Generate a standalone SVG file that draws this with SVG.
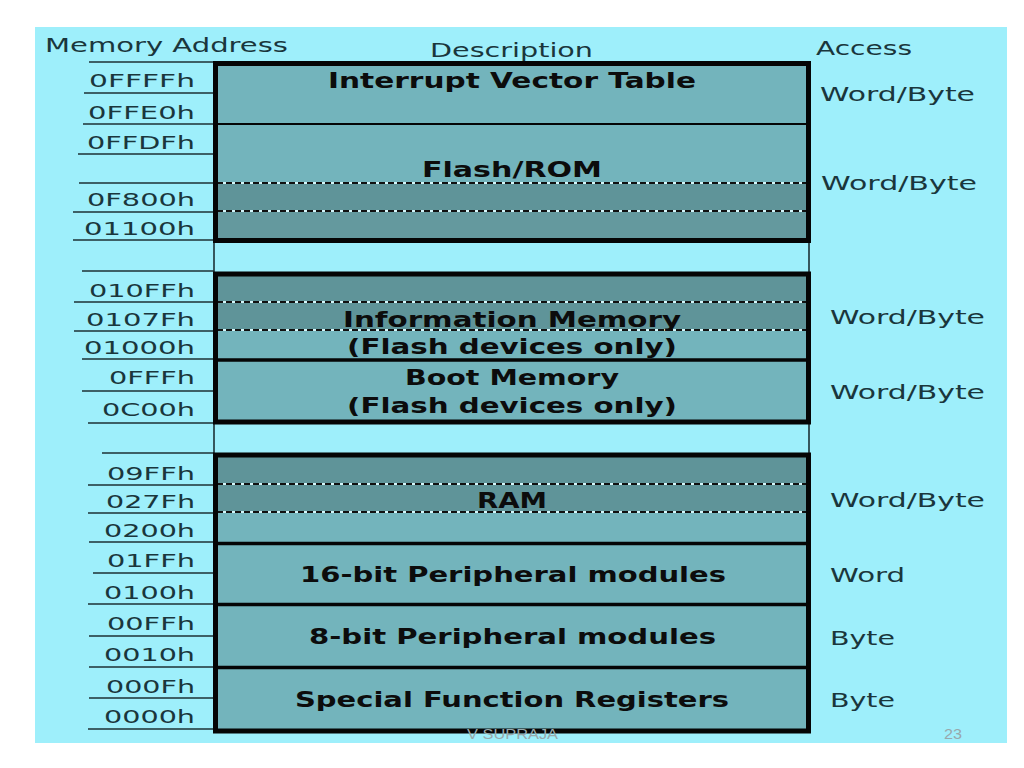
<svg xmlns="http://www.w3.org/2000/svg" width="1024" height="768" viewBox="0 0 1024 768">
<style>
.hdr{font-family:"DejaVu Sans",Verdana,sans-serif;font-size:19px;fill:#1a363c}
.addr{font-family:"DejaVu Sans",Verdana,sans-serif;font-size:18.5px;fill:#1a363c}
.acc{font-family:"DejaVu Sans",Verdana,sans-serif;font-size:19.5px;fill:#1a363c}
.desc{font-family:"DejaVu Sans",Verdana,sans-serif;font-weight:bold;font-size:20.5px;fill:#0c0c0c}
.light{fill:#73b4bc}
.dark{fill:#5f9499}
.dark2{fill:#64999e}
.frame{fill:none;stroke:#050505;stroke-width:5}
.sep{stroke:#050505;stroke-width:3.5}
.sep2{stroke:#050505;stroke-width:2}
.dashbg{stroke:#d4f6fa;stroke-width:2}
.dash{stroke:#111111;stroke-width:2;stroke-dasharray:6 3}
.tick{stroke:#1c3035;stroke-width:1.6}
.foot{font-family:"Liberation Sans",Arial,sans-serif;fill:#98a8ab}
</style>
<rect x="0" y="0" width="1024" height="768" fill="#ffffff"/>
<rect x="35" y="27" width="972" height="716" fill="#9eeffb"/>

<g id="headers">
<text class="hdr" x="45" y="52" textLength="243" lengthAdjust="spacingAndGlyphs">Memory Address</text>
<text class="hdr" x="430" y="57" textLength="163" lengthAdjust="spacingAndGlyphs">Description</text>
<text class="hdr" x="816" y="55" textLength="96" lengthAdjust="spacingAndGlyphs">Access</text>
</g>

<g id="connectors">
<line class="tick" x1="89" y1="62" x2="214" y2="62"/>
<line class="tick" x1="84" y1="93" x2="214" y2="93"/>
<line class="tick" x1="83" y1="124" x2="214" y2="124"/>
<line class="tick" x1="78" y1="154" x2="214" y2="154"/>
<line class="tick" x1="79" y1="183" x2="214" y2="183"/>
<line class="tick" x1="73" y1="212" x2="214" y2="212"/>
<line class="tick" x1="73" y1="240" x2="214" y2="240"/>
<line class="tick" x1="82" y1="271" x2="214" y2="271"/>
<line class="tick" x1="74" y1="302" x2="214" y2="302"/>
<line class="tick" x1="74" y1="331" x2="214" y2="331"/>
<line class="tick" x1="82" y1="359" x2="214" y2="359"/>
<line class="tick" x1="82" y1="391" x2="214" y2="391"/>
<line class="tick" x1="88" y1="423" x2="214" y2="423"/>
<line class="tick" x1="102" y1="453" x2="214" y2="453"/>
<line class="tick" x1="88" y1="485" x2="214" y2="485"/>
<line class="tick" x1="88" y1="513" x2="214" y2="513"/>
<line class="tick" x1="89" y1="542" x2="214" y2="542"/>
<line class="tick" x1="93" y1="573" x2="214" y2="573"/>
<line class="tick" x1="88" y1="604" x2="214" y2="604"/>
<line class="tick" x1="89" y1="636" x2="214" y2="636"/>
<line class="tick" x1="89" y1="667" x2="214" y2="667"/>
<line class="tick" x1="89" y1="698" x2="214" y2="698"/>
<line class="tick" x1="88" y1="729" x2="214" y2="729"/>
<line class="tick" x1="214" y1="240" x2="214" y2="275"/>
<line class="tick" x1="214" y1="421" x2="214" y2="456"/>
<line class="tick" x1="809" y1="240" x2="809" y2="275"/>
<line class="tick" x1="809" y1="421" x2="809" y2="456"/>
</g>

<g id="addresses">
<text class="addr" x="89" y="87" textLength="106" lengthAdjust="spacingAndGlyphs">0FFFFh</text>
<text class="addr" x="88" y="119" textLength="107" lengthAdjust="spacingAndGlyphs">0FFE0h</text>
<text class="addr" x="87" y="149" textLength="108" lengthAdjust="spacingAndGlyphs">0FFDFh</text>
<text class="addr" x="87" y="206" textLength="108" lengthAdjust="spacingAndGlyphs">0F800h</text>
<text class="addr" x="84" y="235" textLength="111" lengthAdjust="spacingAndGlyphs">01100h</text>
<text class="addr" x="89" y="297" textLength="106" lengthAdjust="spacingAndGlyphs">010FFh</text>
<text class="addr" x="86" y="326" textLength="109" lengthAdjust="spacingAndGlyphs">0107Fh</text>
<text class="addr" x="84" y="354" textLength="111" lengthAdjust="spacingAndGlyphs">01000h</text>
<text class="addr" x="109" y="384" textLength="86" lengthAdjust="spacingAndGlyphs">0FFFh</text>
<text class="addr" x="102" y="416" textLength="93" lengthAdjust="spacingAndGlyphs">0C00h</text>
<text class="addr" x="107" y="480" textLength="88" lengthAdjust="spacingAndGlyphs">09FFh</text>
<text class="addr" x="106" y="508" textLength="89" lengthAdjust="spacingAndGlyphs">027Fh</text>
<text class="addr" x="104" y="537" textLength="91" lengthAdjust="spacingAndGlyphs">0200h</text>
<text class="addr" x="107" y="567" textLength="88" lengthAdjust="spacingAndGlyphs">01FFh</text>
<text class="addr" x="104" y="599" textLength="91" lengthAdjust="spacingAndGlyphs">0100h</text>
<text class="addr" x="107" y="630" textLength="88" lengthAdjust="spacingAndGlyphs">00FFh</text>
<text class="addr" x="104" y="661" textLength="91" lengthAdjust="spacingAndGlyphs">0010h</text>
<text class="addr" x="106" y="693" textLength="89" lengthAdjust="spacingAndGlyphs">000Fh</text>
<text class="addr" x="104" y="723" textLength="91" lengthAdjust="spacingAndGlyphs">0000h</text>
</g>

<!-- Block 1 -->
<g id="ivt">
<rect class="light" x="215" y="63" width="594" height="61"/>
<text class="desc" x="328" y="88" textLength="368" lengthAdjust="spacingAndGlyphs">Interrupt Vector Table</text>
</g>
<g id="flash">
<rect class="light" x="215" y="124" width="594" height="59"/>
<rect class="dark" x="215" y="183" width="594" height="28"/>
<rect class="dark2" x="215" y="211" width="594" height="30"/>
<line class="dashbg" x1="217" y1="183" x2="807" y2="183"/>
<line class="dash" x1="217" y1="183" x2="807" y2="183"/>
<line class="dashbg" x1="217" y1="211" x2="807" y2="211"/>
<line class="dash" x1="217" y1="211" x2="807" y2="211"/>
<text class="desc" x="422" y="177" textLength="180" lengthAdjust="spacingAndGlyphs">Flash/ROM</text>
</g>
<line class="sep2" x1="215" y1="124" x2="809" y2="124"/>
<rect class="frame" x="215.5" y="63.5" width="593" height="177"/>

<!-- Block 2 -->
<g id="info">
<rect class="dark" x="215" y="274" width="594" height="56"/>
<rect class="light" x="215" y="330" width="594" height="30"/>
<line class="dashbg" x1="217" y1="302" x2="807" y2="302"/>
<line class="dash" x1="217" y1="302" x2="807" y2="302"/>
<line class="dashbg" x1="217" y1="330" x2="807" y2="330"/>
<line class="dash" x1="217" y1="330" x2="807" y2="330"/>
<text class="desc" x="343" y="327" textLength="338" lengthAdjust="spacingAndGlyphs">Information Memory</text>
<text class="desc" x="347" y="354" textLength="330" lengthAdjust="spacingAndGlyphs">(Flash devices only)</text>
</g>
<g id="boot">
<rect class="light" x="215" y="360" width="594" height="62"/>
<text class="desc" x="405" y="385" textLength="214" lengthAdjust="spacingAndGlyphs">Boot Memory</text>
<text class="desc" x="347" y="413" textLength="330" lengthAdjust="spacingAndGlyphs">(Flash devices only)</text>
</g>
<line class="sep" x1="215" y1="360" x2="809" y2="360"/>
<rect class="frame" x="215.5" y="274" width="593" height="148"/>

<!-- Block 3 -->
<g id="ram">
<rect class="dark" x="215" y="455" width="594" height="57"/>
<rect class="light" x="215" y="512" width="594" height="31"/>
<line class="dashbg" x1="217" y1="484" x2="807" y2="484"/>
<line class="dash" x1="217" y1="484" x2="807" y2="484"/>
<line class="dashbg" x1="217" y1="512" x2="807" y2="512"/>
<line class="dash" x1="217" y1="512" x2="807" y2="512"/>
<text class="desc" x="477" y="508" textLength="70" lengthAdjust="spacingAndGlyphs">RAM</text>
</g>
<g id="periph16">
<rect class="light" x="215" y="543" width="594" height="61"/>
<text class="desc" x="300" y="582" textLength="426" lengthAdjust="spacingAndGlyphs">16-bit Peripheral modules</text>
</g>
<g id="periph8">
<rect class="light" x="215" y="604" width="594" height="63"/>
<text class="desc" x="309" y="644" textLength="407" lengthAdjust="spacingAndGlyphs">8-bit Peripheral modules</text>
</g>
<g id="sfr">
<rect class="light" x="215" y="667" width="594" height="64"/>
<text class="desc" x="295" y="707" textLength="434" lengthAdjust="spacingAndGlyphs">Special Function Registers</text>
</g>
<line class="sep" x1="215" y1="543.5" x2="809" y2="543.5"/>
<line class="sep" x1="215" y1="604.5" x2="809" y2="604.5"/>
<line class="sep" x1="215" y1="667.5" x2="809" y2="667.5"/>
<rect class="frame" x="215.5" y="455" width="593" height="276"/>

<g id="access">
<text class="acc" x="820" y="101" textLength="155" lengthAdjust="spacingAndGlyphs">Word/Byte</text>
<text class="acc" x="821" y="190" textLength="156" lengthAdjust="spacingAndGlyphs">Word/Byte</text>
<text class="acc" x="830" y="324" textLength="155" lengthAdjust="spacingAndGlyphs">Word/Byte</text>
<text class="acc" x="830" y="399" textLength="155" lengthAdjust="spacingAndGlyphs">Word/Byte</text>
<text class="acc" x="830" y="507" textLength="155" lengthAdjust="spacingAndGlyphs">Word/Byte</text>
<text class="acc" x="830" y="582" textLength="75" lengthAdjust="spacingAndGlyphs">Word</text>
<text class="acc" x="830" y="645" textLength="65" lengthAdjust="spacingAndGlyphs">Byte</text>
<text class="acc" x="830" y="707" textLength="65" lengthAdjust="spacingAndGlyphs">Byte</text>
</g>

<g id="footer">
<text class="foot" x="467" y="739" font-size="15" textLength="91" lengthAdjust="spacingAndGlyphs">V SUPRAJA</text>
<text class="foot" x="944" y="739" font-size="15" textLength="18" lengthAdjust="spacingAndGlyphs">23</text>
</g>
</svg>
